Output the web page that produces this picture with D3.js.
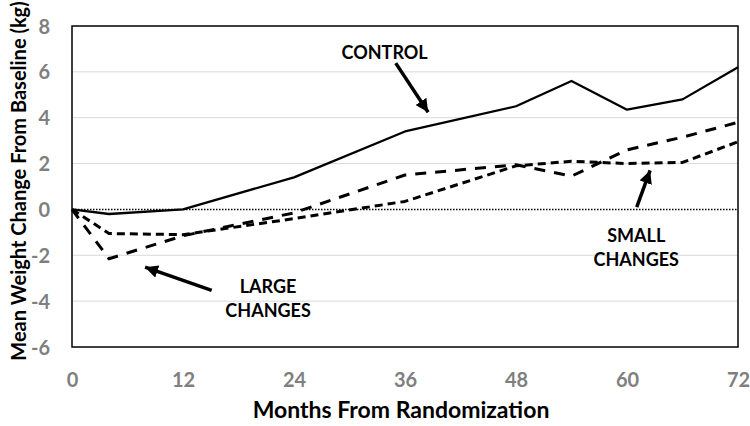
<!DOCTYPE html>
<html>
<head>
<meta charset="utf-8">
<script src="https://cdn.jsdelivr.net/npm/d3@7"></script>
<style>
  html, body { margin: 0; padding: 0; background: #fff; }
  svg { display: block; }
  text { font-family: Lato, "Open Sans", sans-serif; font-weight: 700; }
</style>
</head>
<body>
<svg id="chart" width="750" height="426"></svg>
<script>
// ---- data ----
const months  = [0, 4, 12, 24, 36, 48, 54, 60, 66, 72];
const control = [0, -0.2, 0, 1.4, 3.4, 4.5, 5.6, 4.35, 4.8, 6.2];
const large   = [0, -2.15, -1.15, -0.15, 1.5, 1.95, 1.45, 2.6, 3.15, 3.8];
const small   = [0, -1.05, -1.1, -0.4, 0.35, 1.9, 2.1, 2.0, 2.05, 2.95];
const xTicks  = [0, 12, 24, 36, 48, 60, 72];
const yTicks  = [-6, -4, -2, 0, 2, 4, 6, 8];
const xTitle  = "Months From Randomization";
const yTitle  = "Mean Weight Change From Baseline (kg)";
// annotation labels and arrows in data units (month, kg)
const labels = [
  {lines: ["CONTROL"], m: 33.8, v: 6.85},
  {lines: ["SMALL", "CHANGES"], m: 61.0, v: -1.13},
  {lines: ["LARGE", "CHANGES"], m: 21.2, v: -3.39}
];
const arrows = [
  {from: [35.0, 6.38], to: [38.5, 4.24]},
  {from: [61.05, 0.1], to: [62.5, 1.7]},
  {from: [15.1, -3.53], to: [7.9, -2.52]}
];

// ---- layout ----
const svg = d3.select("#chart");
const L = 72, R = 738, T = 26, B = 347;
const x = d3.scaleLinear().domain([0, 72]).range([L, R]);
const y = d3.scaleLinear().domain([-6, 8]).range([B, T]);
const fmt = d => String(d); // hyphen-minus like the original

// gridlines
svg.append("g").selectAll("line").data(yTicks.filter(t => t !== 0 && t !== 8 && t !== -6))
  .join("line")
  .attr("x1", L).attr("x2", R)
  .attr("y1", d => y(d)).attr("y2", d => y(d))
  .attr("stroke", "#d9d9d9").attr("stroke-width", 1);

// zero dotted line
svg.append("line")
  .attr("x1", L).attr("x2", R).attr("y1", y(0)).attr("y2", y(0))
  .attr("stroke", "#000").attr("stroke-width", 1.5)
  .attr("stroke-dasharray", "1.5,1.5");

// axes (labels only)
const xAxis = d3.axisBottom(x).tickValues(xTicks).tickFormat(fmt).tickSize(0).tickPadding(0);
const gx = svg.append("g").attr("transform", `translate(0,${B})`).call(xAxis);
gx.select(".domain").remove();
gx.selectAll("text").attr("dy", null).attr("y", 40)
  .attr("fill", "#7f7f7f").attr("font-size", 20).attr("font-family", "Lato").attr("font-weight", 700);

const yAxis = d3.axisLeft(y).tickValues(yTicks).tickFormat(fmt).tickSize(0).tickPadding(0);
const gy = svg.append("g").attr("transform", `translate(${L},0)`).call(yAxis);
gy.select(".domain").remove();
gy.selectAll("text").attr("x", -22).attr("dy", "0.35em")
  .attr("fill", "#7f7f7f").attr("font-size", 20).attr("font-family", "Lato").attr("font-weight", 700);

// titles
svg.append("text").attr("x", 401).attr("y", 418)
  .attr("text-anchor", "middle").attr("font-size", 23).attr("fill", "#000")
  .text(xTitle);
svg.append("text")
  .attr("transform", `translate(26,${181}) rotate(-90)`)
  .attr("text-anchor", "middle").attr("font-size", 20).attr("fill", "#000")
  .text(yTitle);

// lines
const line = d3.line().x(d => x(d[0])).y(d => y(d[1]));
const series = [
  {vals: control, dash: null, w: 2.3},
  {vals: large, dash: "11,9", w: 3},
  {vals: small, dash: "8,5", w: 3}
];
svg.append("g").selectAll("path").data(series).join("path")
  .attr("d", s => line(months.map((m, i) => [m, s.vals[i]])))
  .attr("fill", "none").attr("stroke", "#000")
  .attr("stroke-width", s => s.w)
  .attr("stroke-dasharray", s => s.dash)
  .attr("stroke-linejoin", "round");

// frame
svg.append("rect").attr("x", L).attr("y", T).attr("width", R - L).attr("height", B - T)
  .attr("fill", "none").attr("stroke", "#000").attr("stroke-width", 1.5);

// arrows
svg.append("defs").append("marker")
  .attr("id", "ah").attr("markerUnits", "userSpaceOnUse")
  .attr("viewBox", "0 0 12 12").attr("refX", 12).attr("refY", 6)
  .attr("markerWidth", 13).attr("markerHeight", 13).attr("orient", "auto")
  .append("path").attr("d", "M0,0 L12,6 L0,12 Z").attr("fill", "#000");
svg.append("g").selectAll("line").data(arrows).join("line")
  .attr("x1", d => x(d.from[0])).attr("y1", d => y(d.from[1]))
  .attr("x2", d => x(d.to[0])).attr("y2", d => y(d.to[1]))
  .attr("stroke", "#000").attr("stroke-width", 3.5)
  .attr("marker-end", "url(#ah)");

// annotation labels
const lg = svg.append("g").selectAll("text").data(labels).join("text")
  .attr("x", d => x(d.m)).attr("y", d => y(d.v))
  .attr("text-anchor", "middle")
  .attr("font-size", 18).attr("fill", "#000");
lg.selectAll("tspan").data(d => d.lines.map((t, i) => ({t, i, m: d.m})))
  .join("tspan")
  .attr("x", d => x(d.m)).attr("dy", d => d.i === 0 ? "0.35em" : 24)
  .text(d => d.t);
</script>
</body>
</html>
